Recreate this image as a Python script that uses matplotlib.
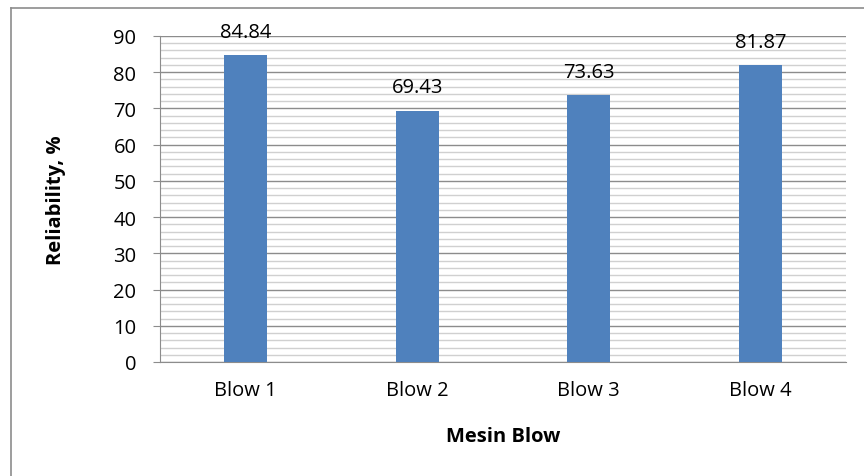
import matplotlib
matplotlib.use("Agg")
import matplotlib.pyplot as plt
from matplotlib.lines import Line2D
from matplotlib.ticker import MultipleLocator

categories = ["Blow 1", "Blow 2", "Blow 3", "Blow 4"]
reliability = [84.84, 69.43, 73.63, 81.87]

plt.rcParams['font.family'] = ['Open Sans', 'DejaVu Sans']

W, H = 864, 477
fig = plt.figure(figsize=(W / 100, H / 100), dpi=100)

# plot area in pixels: left 160, right 846, top 37, bottom 363
ax = fig.add_axes([160 / W, 1 - 363 / H, (846 - 160) / W, (363 - 37) / H])

fs = 14.5
x = range(len(categories))
ax.bar(x, reliability, width=0.25, color="#4F81BD", zorder=3)
for xi, v in zip(x, reliability):
    ax.text(xi, v + 5, f"{v:.2f}", ha="center", va="baseline", fontsize=fs, zorder=4)

ax.set_xlim(-0.5, len(categories) - 0.5)
ax.set_ylim(0, 90)
ax.yaxis.set_major_locator(MultipleLocator(10))
ax.yaxis.set_minor_locator(MultipleLocator(2))
ax.grid(axis="y", which="major", color="#8C8C8C", linewidth=1.0, zorder=1)
ax.grid(axis="y", which="minor", color="#D0D0D0", linewidth=1.0, zorder=0)

ax.set_xticks(list(x))
ax.set_xticklabels(categories, fontsize=fs)
ax.tick_params(axis="x", length=0, pad=13)
ax.tick_params(axis="y", which="major", length=5, color="#8C8C8C", labelsize=fs, pad=12)
ax.tick_params(axis="y", which="minor", length=0)

for side in ["top", "right"]:
    ax.spines[side].set_visible(False)
for side in ["left", "bottom"]:
    ax.spines[side].set_color("#8C8C8C")

ax.set_ylabel("Reliability, %", fontsize=fs, fontweight="bold", va="center")
ax.yaxis.set_label_coords((56 - 160) / 686, 0.5)
ax.set_xlabel("Mesin Blow", fontsize=fs, fontweight="bold", va="center")
ax.xaxis.set_label_coords((503 - 160) / 686, (363 - 437) / 326)

# chart border (cut off at right and bottom)
fig.add_artist(Line2D([11 / W, 1], [1 - 9 / H, 1 - 9 / H], color="#8C8C8C", linewidth=1.2))
fig.add_artist(Line2D([11 / W, 11 / W], [0, 1 - 9 / H], color="#8C8C8C", linewidth=1.2))

fig.savefig("out.png", dpi=100)
